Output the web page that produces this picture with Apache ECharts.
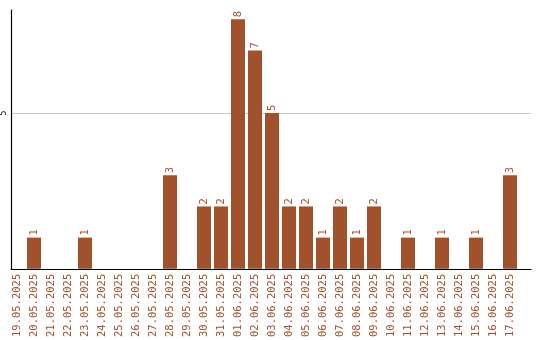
<!DOCTYPE html>
<html><head><meta charset="utf-8">
<script src="https://cdn.jsdelivr.net/npm/echarts@6/dist/echarts.min.js"></script>
<style>html,body{margin:0;padding:0;background:#fff}#c{width:540px;height:340px}</style>
</head><body><div id="c"></div>
<script>
const categories = ["19.05.2025","20.05.2025","21.05.2025","22.05.2025","23.05.2025","24.05.2025","25.05.2025","26.05.2025","27.05.2025","28.05.2025","29.05.2025","30.05.2025","31.05.2025","01.06.2025","02.06.2025","03.06.2025","04.06.2025","05.06.2025","06.06.2025","07.06.2025","08.06.2025","09.06.2025","10.06.2025","11.06.2025","12.06.2025","13.06.2025","14.06.2025","15.06.2025","16.06.2025","17.06.2025"];
const values = [0,1,0,0,1,0,0,0,0,3,0,2,2,8,7,5,2,2,1,2,1,2,0,1,0,1,0,1,0,3];
const yTicks = [5];

const brown = '#A0522D';
const font = 'DejaVu Sans Mono';
const chart = echarts.init(document.getElementById('c'));
chart.setOption({
  animation: false,
  grid: [
    {left: 8.5, width: 510, top: 10, bottom: 70.5},
    {left: 10, right: 9, top: 10, bottom: 70.5}
  ],
  xAxis: [
    {type: 'category', gridIndex: 0, data: categories,
     axisLine: {show: false}, axisTick: {show: false}, splitLine: {show: false},
     axisLabel: {interval: 0, rotate: 90, margin: 5, color: brown, fontFamily: font, fontSize: 10.5}},
    {type: 'value', gridIndex: 1, min: 0, max: 1,
     axisLine: {show: true, lineStyle: {color: '#000', width: 1.2}},
     axisTick: {show: false}, axisLabel: {show: false}, splitLine: {show: false}}
  ],
  yAxis: [
    {type: 'value', gridIndex: 0, min: 0, max: 8.3, show: false},
    {type: 'value', gridIndex: 1, min: 0, max: 8.3, interval: 5,
     axisLine: {show: true, lineStyle: {color: '#000', width: 1.2}},
     axisTick: {show: false},
     splitLine: {show: true, showMinLine: false, showMaxLine: false, lineStyle: {color: '#c8c8c8', width: 1}},
     axisLabel: {rotate: 90, margin: 3, color: '#000', fontFamily: font, fontSize: 8,
       formatter: v => yTicks.includes(v) ? String(v) : ''}}
  ],
  series: [{
    type: 'bar', xAxisIndex: 0, yAxisIndex: 0, data: values,
    barWidth: 14, itemStyle: {color: brown},
    label: {show: true, position: 'top', rotate: 90, align: 'left', verticalAlign: 'middle',
      distance: 2, color: brown, fontFamily: font, fontSize: 10.5,
      formatter: p => p.value > 0 ? String(p.value) : ''}
  }]
});
</script></body></html>
